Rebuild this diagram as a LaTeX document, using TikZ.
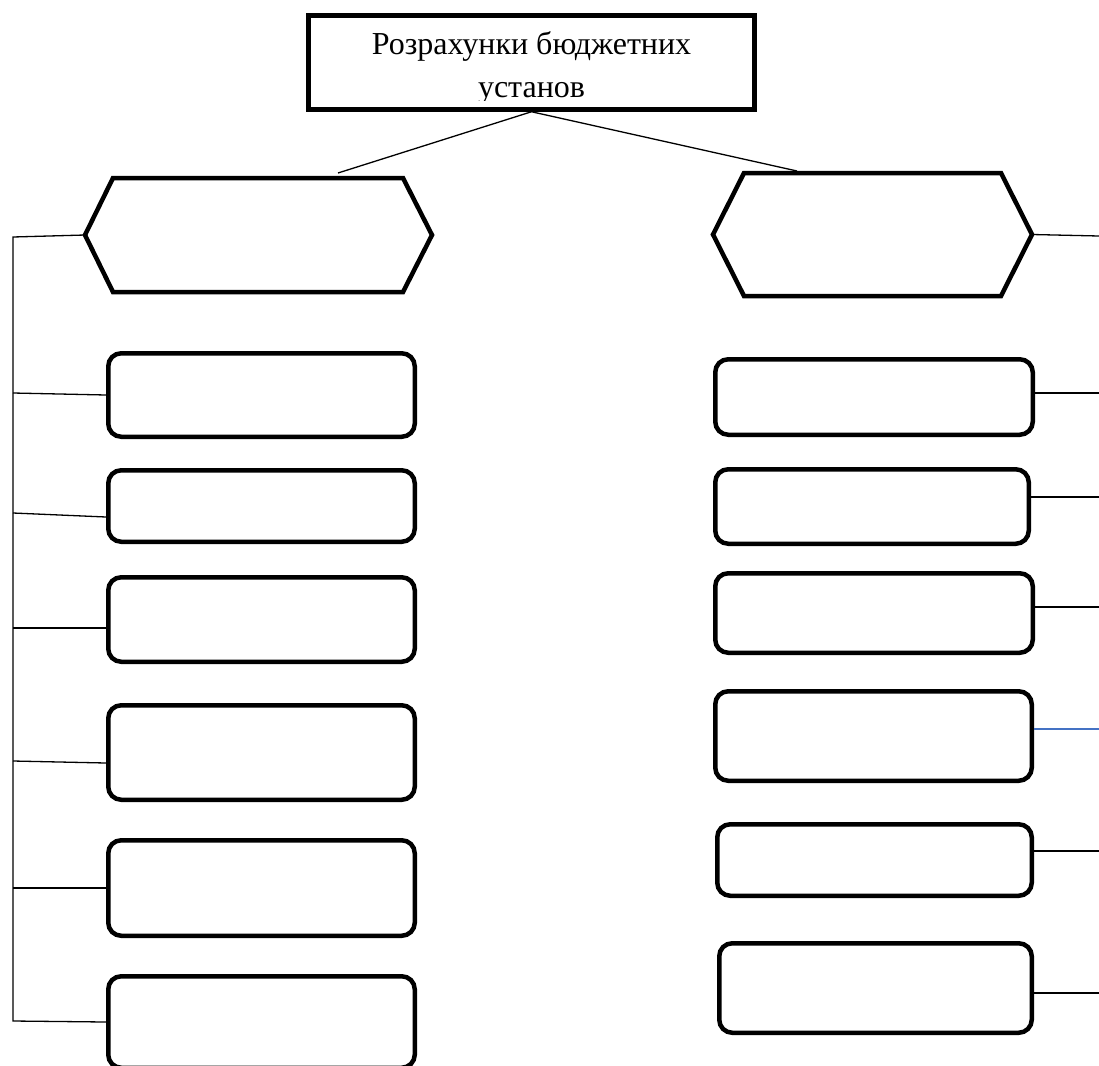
\documentclass[tikz,border=0pt]{standalone}
\usepackage{fontspec}
\setmainfont{Liberation Serif}
\usetikzlibrary{calc}
\definecolor{linkblue}{RGB}{68,114,196}
\begin{document}
\begin{tikzpicture}[x=1pt,y=-1pt,
  box/.style={draw, line width=4.5pt, rounded corners=13pt, inner sep=0pt},
  hexbase/.style={inner sep=0pt, outer sep=0pt, draw=none},
  hexline/.style={line width=4.5pt, line join=miter},
  topbox/.style={draw, line width=4.5pt, inner sep=0pt},
  link/.style={line width=1.3pt},
  bluelink/.style={line width=1.3pt, draw=linkblue},
  lbl/.style={font=\fontsize{32}{42}\selectfont, inner sep=0pt, anchor=base}]
\useasboundingbox (0,0) rectangle (1099,1065);

% top box
\node[topbox, minimum width=446pt, minimum height=94pt] (TB) at (531.5,62.5) {};
\begin{scope}
  \clip (306,13) rectangle (757,100);
  \node[lbl] (T1) at (531.5,55) {Розрахунки бюджетних};
  \node[lbl] (T2) at (531.5,97.5) {установ};
\end{scope}

% hexagons
\node[hexbase, minimum width=347pt, minimum height=114pt] (HL) at (258.5,235) {};
\draw[hexline] (HL.west) -- ($(HL.north west)+(28,0)$) -- ($(HL.north east)+(-29,0)$)
  -- (HL.east) -- ($(HL.south east)+(-29,0)$) -- ($(HL.south west)+(28,0)$) -- cycle;
\node[hexbase, minimum width=319pt, minimum height=123pt] (HR) at (872.5,234.5) {};
\draw[hexline] (HR.west) -- ($(HR.north west)+(31,0)$) -- ($(HR.north east)+(-31,0)$)
  -- (HR.east) -- ($(HR.south east)+(-31,0)$) -- ($(HR.south west)+(31,0)$) -- cycle;

% left boxes
\node[box, minimum width=306.5pt, minimum height=83.5pt] (L1) at (261.5,395) {};
\node[box, minimum width=306.5pt, minimum height=71.5pt] (L2) at (261.5,506) {};
\node[box, minimum width=306.5pt, minimum height=84.5pt] (L3) at (261.5,619.5) {};
\node[box, minimum width=306.5pt, minimum height=94.5pt] (L4) at (261.5,752.5) {};
\node[box, minimum width=306.5pt, minimum height=95.5pt] (L5) at (261.5,888) {};
\node[box, minimum width=306.5pt, minimum height=91.5pt] (L6) at (261.5,1022) {};

% right boxes
\node[box, minimum width=317.5pt, minimum height=75.5pt] (R1) at (874,397) {};
\node[box, minimum width=313.5pt, minimum height=74.5pt] (R2) at (872,506.5) {};
\node[box, minimum width=317.5pt, minimum height=79.5pt] (R3) at (874,613) {};
\node[box, minimum width=316.5pt, minimum height=89.5pt] (R4) at (873.5,736) {};
\node[box, minimum width=314.5pt, minimum height=71.5pt] (R5) at (874.5,860) {};
\node[box, minimum width=312.5pt, minimum height=89.5pt] (R6) at (875.5,988) {};

% top connectors
\draw[link] (TB.south) -- ($(HL.north)+(79.5,-5)$);
\draw[link] (TB.south) -- ($(HR.north)+(-75.5,-2)$);

% left bus
\coordinate (b0) at (13,237);
\coordinate (b1) at (13,393);
\coordinate (b2) at (13,513);
\coordinate (b3) at (13,628);
\coordinate (b4) at (13,761);
\coordinate (b5) at (13,888);
\coordinate (b6) at (13,1021);
\draw[link] (HL.west) -- (b0) -- (b6) -- (L6.west);
\draw[link] (b1) -- (L1.west);
\draw[link] (b2) -- ($(L2.west)+(0,11)$);
\draw[link] (b3) -- ($(L3.west)+(0,8.5)$);
\draw[link] (b4) -- ($(L4.west)+(0,10.5)$);
\draw[link] (b5) -- (L5.west);

% right stubs
\coordinate (eh) at (1099,236);
\coordinate (e1) at (1099,393);
\coordinate (e2) at (1099,497);
\coordinate (e3) at (1099,607);
\coordinate (e4) at (1099,729);
\coordinate (e5) at (1099,851);
\coordinate (e6) at (1099,993);
\draw[link] (HR.east) -- (eh);
\draw[link] (R1.east |- e1) -- (e1);
\draw[link] (R2.east |- e2) -- (e2);
\draw[link] (R3.east |- e3) -- (e3);
\draw[bluelink] (R4.east |- e4) -- (e4);
\draw[link] (R5.east |- e5) -- (e5);
\draw[link] (R6.east |- e6) -- (e6);
\end{tikzpicture}
\end{document}
